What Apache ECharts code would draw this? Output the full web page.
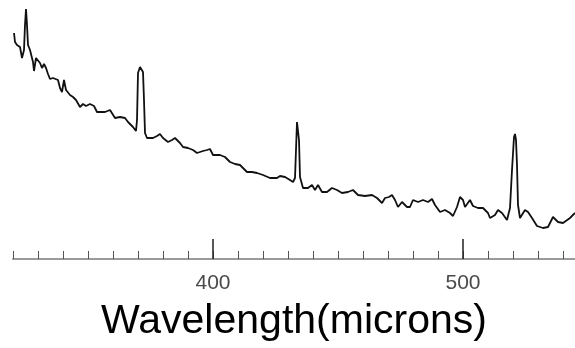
<!DOCTYPE html>
<html>
<head>
<meta charset="utf-8">
<script src="https://cdn.jsdelivr.net/npm/echarts@6/dist/echarts.min.js"></script>
<style>
    html, body { margin: 0; padding: 0; background: #fff; }
    #chart { width: 575px; height: 348px; }
</style>
</head>
<body>
<div id="chart"></div>
<script>
// spectrum
const wavelength = [
    320.4, 320.8, 321.6, 322.8, 323.6, 324.4, 324.8, 325.2, 325.6, 326.0, 326.8, 327.2, 328.0, 328.4, 329.2, 330.0,
    330.8, 331.6, 332.4, 333.2, 334.0, 334.8, 336.0, 336.8, 338.0, 338.8, 339.6, 340.4, 341.2, 342.0, 342.8, 344.0,
    345.2, 346.8, 348.0, 349.2, 350.8, 352.4, 353.6, 354.8, 356.8, 358.8, 360.8, 362.8, 364.8, 366.0, 368.0, 369.2,
    369.6, 370.0, 370.8, 371.6, 372.0, 372.4, 372.8, 373.6, 374.8, 376.0, 377.6, 378.8, 380.0, 382.0, 383.6, 384.8,
    386.8, 388.0, 390.0, 390.8, 392.0, 393.6, 396.0, 397.6, 398.8, 400.0, 401.6, 402.8, 404.8, 406.8, 408.8, 410.8,
    412.0, 413.6, 415.6, 417.6, 420.0, 422.8, 425.6, 426.8, 428.8, 430.8, 432.0, 432.8, 433.2, 433.6, 434.0, 434.4,
    434.8, 436.0, 438.0, 439.6, 440.8, 442.0, 443.6, 445.6, 447.6, 449.6, 451.6, 454.0, 456.0, 458.0, 460.8, 463.6,
    465.6, 467.6, 468.8, 470.4, 471.6, 472.8, 474.0, 475.6, 477.6, 478.8, 480.0, 482.0, 484.0, 486.0, 487.6, 488.8,
    490.8, 492.8, 494.8, 496.0, 497.6, 498.8, 500.0, 500.8, 502.8, 504.0, 506.0, 508.0, 510.0, 510.8, 512.8, 514.0,
    515.6, 517.6, 518.8, 519.6, 520.4, 520.8, 521.2, 521.6, 522.0, 522.8, 524.8, 526.0, 527.6, 529.6, 532.0, 534.0,
    536.0, 538.0, 540.0, 542.8, 544.8
]
const intensity = [
    226, 217, 214, 212, 201, 209, 234, 250, 234, 214, 209, 211, 197, 188, 201, 199,
    196, 191, 195, 191, 185, 180, 181, 182, 179, 171, 167, 179, 169, 167, 164, 162,
    159, 152, 155, 153, 155, 153, 147, 147, 147, 149, 141, 142, 141, 137, 132, 128,
    139, 186, 192, 194, 187, 159, 126, 121, 121, 121, 123, 125, 121, 117, 119, 121,
    116, 112, 111, 111, 109, 106, 108, 109, 110, 104, 104, 104, 102, 97, 95, 94,
    91, 87, 87, 86, 84, 81, 81, 83, 82, 79, 77, 81, 109, 137, 139, 119,
    82, 71, 71, 74, 69, 74, 67, 67, 71, 69, 66, 67, 69, 64, 63, 64,
    61, 56, 61, 62, 64, 59, 52, 57, 52, 52, 59, 57, 59, 57, 60, 54,
    47, 49, 46, 43, 52, 62, 59, 52, 59, 53, 51, 51, 46, 41, 44, 49,
    46, 39, 51, 89, 122, 125, 119, 94, 54, 41, 49, 47, 41, 33, 31, 32,
    42, 37, 36, 41, 46
]
const majorTicks = [400, 500]

let chart = echarts.init(document.getElementById('chart'))

let points = wavelength.map((w, i) => [w, intensity[i]])

let option = {
    animation: false,
    backgroundColor: '#fff',
    textStyle: { fontFamily: 'Liberation Sans, Arial, sans-serif' },
    grid: {
        left: 13,
        right: 0,
        top: 0,
        bottom: 89
    },
    xAxis: [{
        type: 'value',
        min: 320,
        max: 544.8,
        interval: 10,
        position: 'bottom',
        splitLine: { show: false },
        axisLine: {
            show: true,
            lineStyle: { color: '#9a9a9a', width: 2 }
        },
        axisTick: {
            show: true,
            inside: true,
            length: 8,
            lineStyle: { color: '#555', width: 1 }
        },
        axisLabel: {
            customValues: majorTicks,
            margin: 14,
            fontSize: 21,
            color: '#4a4a4a'
        },
        name: 'Wavelength(microns)',
        nameLocation: 'middle',
        nameGap: 42,
        nameTextStyle: {
            fontSize: 41,
            color: '#000'
        }
    }, {
        // long ticks at the labelled values
        type: 'value',
        min: 320,
        max: 544.8,
        position: 'bottom',
        splitLine: { show: false },
        axisLine: { show: false },
        axisTick: {
            show: true,
            inside: true,
            length: 20,
            customValues: majorTicks,
            lineStyle: { color: '#222', width: 1.5 }
        },
        axisLabel: { show: false }
    }],
    yAxis: {
        type: 'value',
        min: 0,
        max: 259,
        show: false
    },
    series: [{
        type: 'line',
        data: points,
        showSymbol: false,
        smooth: false,
        lineStyle: { color: '#111', width: 1.8 }
    }]
}

chart.setOption(option)
</script>
</body>
</html>
